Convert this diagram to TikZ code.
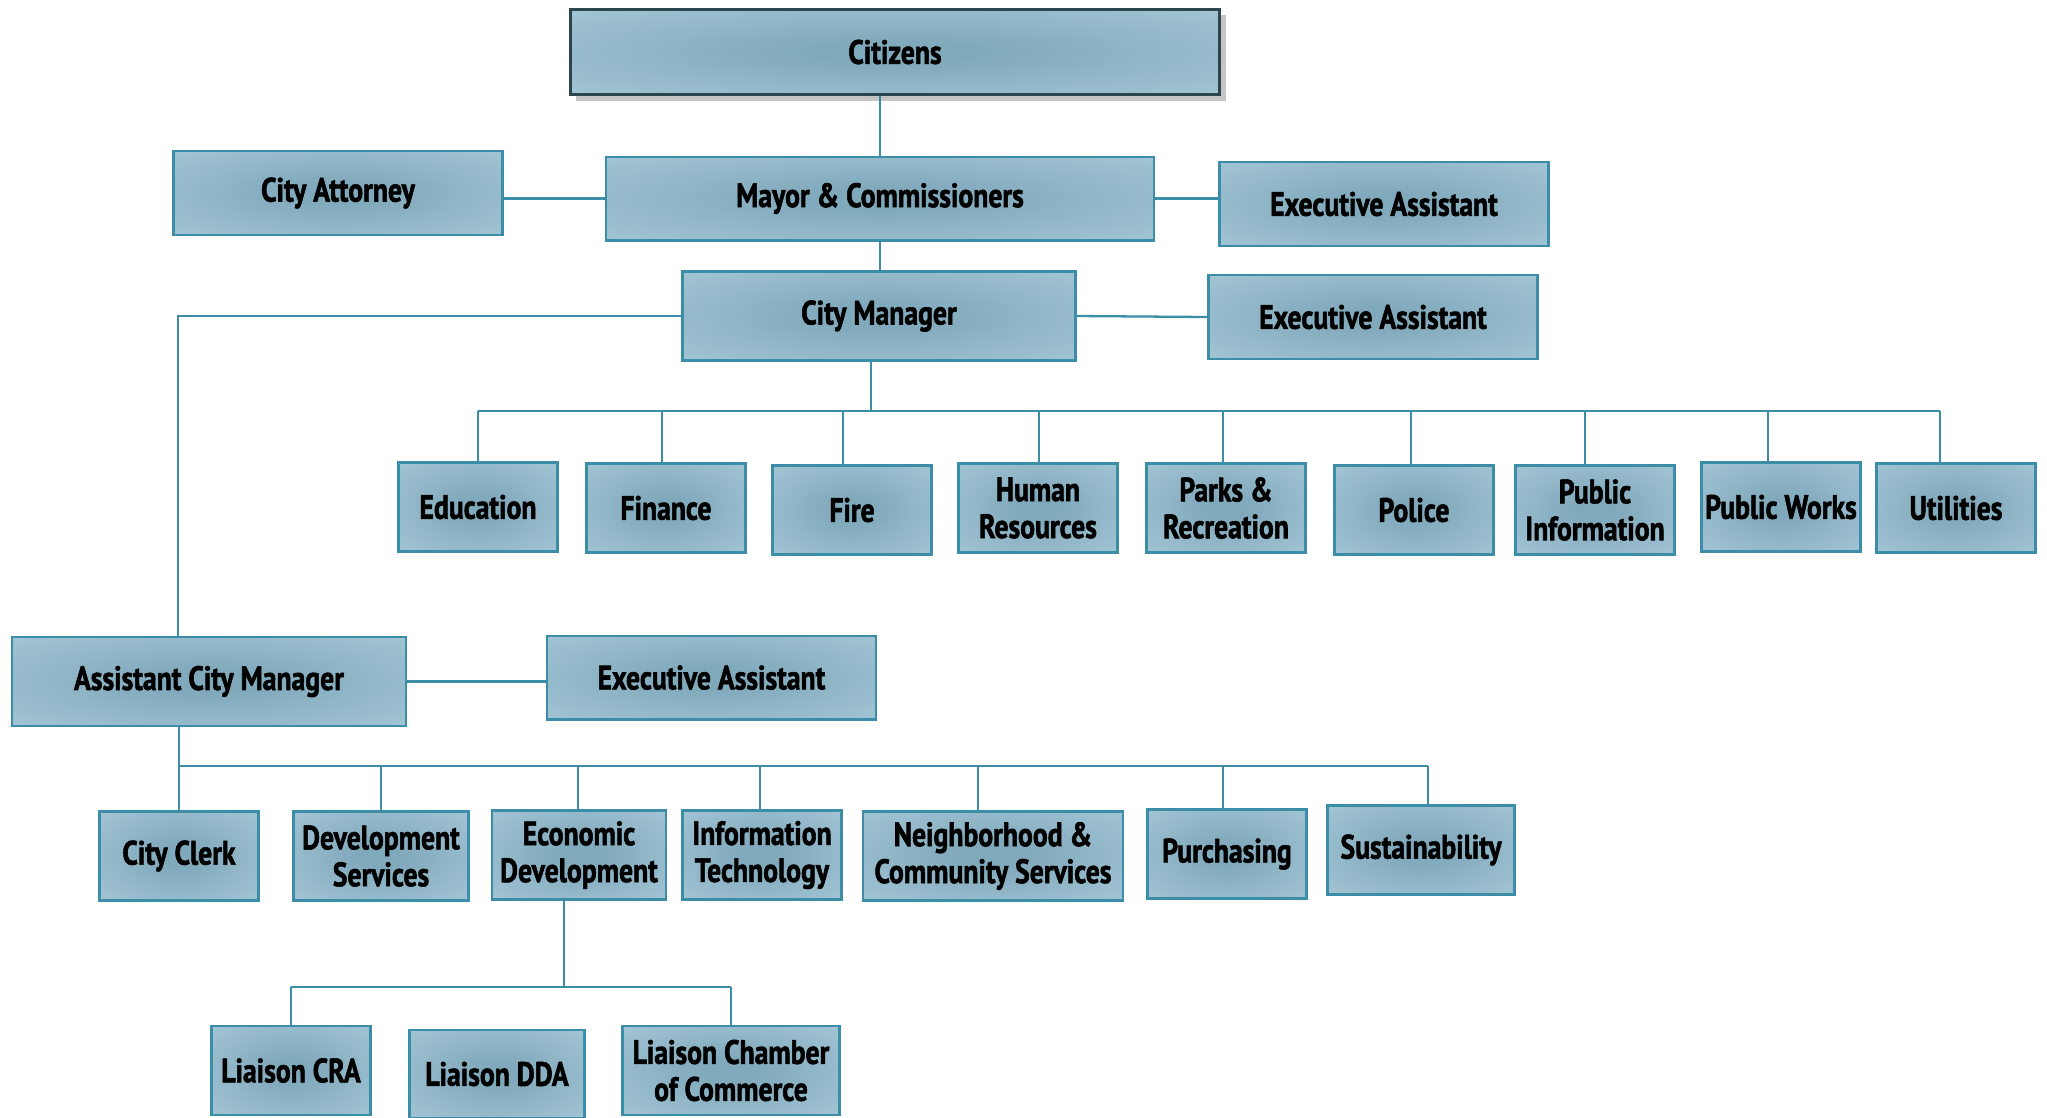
\documentclass[tikz,border=0pt]{standalone}
\usepackage{fontspec}
\newfontfamily\orgfont{PT Sans}[FakeStretch=0.82,BoldFeatures={FakeBold=1.6}]
\usetikzlibrary{shadows}
\definecolor{boxdark}{HTML}{80A9BB}
\definecolor{boxlight}{HTML}{A8C9D9}
\definecolor{orgline}{HTML}{3C8DA8}
\definecolor{topline}{HTML}{2C4650}
\pgfdeclareradialshading{boxshade}{\pgfpoint{0bp}{0bp}}{color(0bp)=(boxdark); color(6bp)=(boxdark); color(40bp)=(boxlight); color(80bp)=(boxlight)}

\begin{document}
\begin{tikzpicture}[
  x=0.01cm, y=-0.01cm,
  unit/.style={draw=orgline,line width=0.7pt,shading=boxshade,
               minimum width=1.59cm,minimum height=0.89cm,inner sep=1pt,align=center,
               font=\orgfont\bfseries\fontsize{9.6}{10.5}\selectfont},
  link/.style={draw=orgline,line width=0.65pt}
]
\useasboundingbox (0,0) rectangle (2047,1117);

% top of the chart
\node[unit,draw=topline,minimum width=6.49cm,minimum height=0.85cm,
      drop shadow={shadow xshift=0.6mm,shadow yshift=-0.6mm,fill=black!45}] (cit) at (895,52) {Citizens};
\node[unit,minimum width=3.29cm,minimum height=0.836cm] (att)   at (338,193)   {City Attorney};
\node[unit,minimum width=5.48cm,minimum height=0.835cm] (mayor) at (880,198.5) {Mayor \& Commissioners};
\node[unit,minimum width=3.29cm,minimum height=0.835cm] (ea1)   at (1384,204)  {Executive Assistant};
\node[unit,minimum width=3.93cm] (cm) at (879,316) {City Manager};
\node[unit,minimum width=3.29cm,minimum height=0.835cm] (ea2)   at (1373,317)  {Executive Assistant};

% departments under the city manager
\node[unit] (edu)      at (478,507)  {Education};
\node[unit] (fin)      at (666,508)  {Finance};
\node[unit] (fire)     at (852,510)  {Fire};
\node[unit] (hr)       at (1038,508) {Human\\Resources};
\node[unit] (parks)    at (1226,508) {Parks \&\\Recreation};
\node[unit] (police)   at (1414,510) {Police};
\node[unit] (pubinfo)  at (1595,510) {Public\\Information};
\node[unit] (pubworks) at (1781,507) {Public Works};
\node[unit] (util)     at (1956,508) {Utilities};

% assistant city manager
\node[unit,minimum width=3.94cm] (acm) at (209,681.5) {Assistant City Manager};
\node[unit,minimum width=3.29cm,minimum height=0.835cm] (ea3) at (711.5,677.6) {Executive Assistant};

\node[unit] (clerk)                      at (179,856)  {City Clerk};
\node[unit,minimum width=1.75cm] (devserv) at (381,856)  {Development\\Services};
\node[unit,minimum width=1.74cm] (econ)    at (579,855)  {Economic\\Development};
\node[unit] (it)                         at (762,855)  {Information\\Technology};
\node[unit,minimum width=2.6cm] (ncs)      at (993,856)  {Neighborhood \&\\Community Services};
\node[unit] (purch)                      at (1227,854) {Purchasing};
\node[unit,minimum width=1.87cm] (sust)    at (1421,850) {Sustainability};

\node[unit] (cra)                                          at (291,1070.5) {Liaison CRA};
\node[unit,minimum width=1.75cm,minimum height=0.875cm] (dda) at (497,1074)   {Liaison DDA};
\node[unit,minimum width=2.17cm] (chamber)                 at (731,1070.5) {Liaison Chamber\\of Commerce};

% connectors
\coordinate (dbar) at (871,411);
\coordinate (mgr)  at (178,316);
\coordinate (abar) at (179,766);
\coordinate (lbar) at (564,987);

\draw[link] (cit.south -| mayor) -- (mayor.north);
\draw[link] (att.east |- mayor) -- (mayor.west);
\draw[link] (mayor.east) -- (ea1.west |- mayor);
\draw[link] (mayor.south) -- (mayor.south |- cm.north);
\draw[link] (cm.east) -- (ea2.west);

\draw[link] (cm.south -| dbar) -- (dbar);
\draw[link] (edu.north |- dbar) -- (1940,411);
\foreach \n/\x in {edu/478,fin/662,fire/843,hr/1039,parks/1223,police/1411,pubinfo/1585,pubworks/1768,util/1940}
  \draw[link] (\n.north -| \x,0) -- (\x,411);

\draw[link] (cm.west) -- (mgr) -- (mgr |- acm.north);
\draw[link] (acm.east) -- (ea3.west |- acm);
\draw[link] (acm.south -| abar) -- (abar);
\draw[link] (clerk.north |- abar) -- (1428,766);
\foreach \n/\x in {clerk/179,devserv/381,econ/578,it/760,ncs/978,purch/1223,sust/1428}
  \draw[link] (\n.north -| \x,0) -- (\x,766);

\draw[link] (econ.south -| lbar) -- (lbar);
\draw[link] (cra.north |- lbar) -- (chamber.north |- lbar);
\foreach \n in {cra,chamber}
  \draw[link] (\n.north) -- (\n.north |- lbar);
\end{tikzpicture}
\end{document}
